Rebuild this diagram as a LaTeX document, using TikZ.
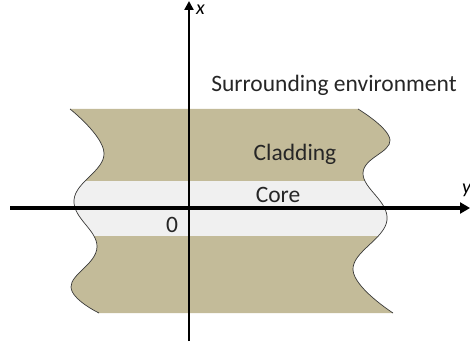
\documentclass[tikz,border=0pt]{standalone}
\usepackage{fontspec}
\setmainfont{Carlito}
\usetikzlibrary{arrows.meta}
\definecolor{clad}{HTML}{C3BB99}
\definecolor{corefill}{HTML}{F0F0F0}
\definecolor{edge}{HTML}{3A3A3A}
\begin{document}
\begin{tikzpicture}[x=1pt,y=-1pt,
  axisline/.style={black,line width=3.4pt,-{Triangle[length=10pt,width=11pt]}},
  lbl/.style={text=black!85,font=\fontsize{23.5}{26}\selectfont,inner sep=0pt},
  axlbl/.style={text=black,font=\fontsize{20}{22}\selectfont\itshape\rmfamily,inner sep=0pt}]
\useasboundingbox (0,0) rectangle (470,355);
% outline of the waveguide slab, with wavy cut edges
\def\slab{plot[smooth,tension=0.7] coordinates {(70,109) (104,153) (74,200) (97,247) (71,287) (99,313)}
  -- plot[smooth,tension=0.7] coordinates {(393,313) (353,270) (387,220) (363,173) (390,140) (358,109)} -- cycle}
\fill[clad] \slab;
\begin{scope}
  \clip \slab;
  \fill[corefill] (0,181) rectangle (470,236);
\end{scope}
% wavy edges
\draw[edge,line width=0.7pt] plot[smooth,tension=0.7] coordinates {(70,109) (104,153) (74,200) (97,247) (71,287) (99,313)};
\draw[edge,line width=0.7pt] plot[smooth,tension=0.7] coordinates {(393,313) (353,270) (387,220) (363,173) (390,140) (358,109)};
% axes
\coordinate (yl) at (10,208);
\coordinate (yr) at (470,208);
\coordinate (xb) at (189,341);
\coordinate (xt) at (189,1);
\draw[axisline] (yl) -- (yr);
\draw[axisline,line width=2.8pt,-{Triangle[length=9pt,width=9pt]}] (xb) -- (xt);
\node[axlbl,anchor=west] (xlab) at (196,10) {x};
\node[axlbl,anchor=west] (ylab) at (462,190) {y};
% labels
\node[lbl] (env) at (334,85) {Surrounding environment};
\node[lbl] (cladlbl) at (295,154) {Cladding};
\node[lbl] (corelbl) at (278,195) {Core};
\node[lbl] (origin) at (172,225) {0};
\end{tikzpicture}
\end{document}
